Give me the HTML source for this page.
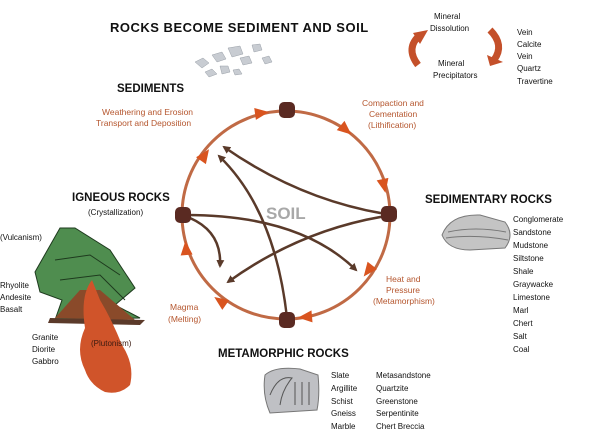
<!DOCTYPE html>
<html><head><meta charset="utf-8"><style>
body{margin:0;background:#fff}
svg{display:block}
text{font-family:"Liberation Sans",sans-serif}
.h{font-weight:bold;font-size:11.5px;fill:#111}
.s{font-size:8px;fill:#111}
.o{font-size:8.5px;fill:#b5562e}
</style></head><body>
<svg width="601" height="434" viewBox="0 0 601 434">
<defs>
<marker id="ab" markerWidth="8" markerHeight="8" refX="6" refY="4" orient="auto" markerUnits="userSpaceOnUse"><path d="M0,0 L8,4 L0,8 Z" fill="#5a3a2a"/></marker>
</defs>
<!-- title -->
<text x="110" y="32" class="h" style="font-size:13px;letter-spacing:0.5px">ROCKS BECOME SEDIMENT AND SOIL</text>
<!-- sediment pebbles -->
<g fill="#c8ccd2" stroke="#9aa0a8" stroke-width="0.5">
<path d="M195,62 l8,-4 l6,5 l-7,5z"/><path d="M212,55 l10,-3 l4,7 l-9,3z"/><path d="M228,48 l12,-2 l3,8 l-11,3z"/>
<path d="M240,58 l9,-2 l3,7 l-9,2z"/><path d="M205,72 l7,-3 l5,5 l-8,3z"/><path d="M220,66 l8,0 l2,6 l-8,2z"/>
<path d="M252,45 l8,-1 l2,6 l-8,2z"/><path d="M233,70 l6,-1 l3,5 l-7,1z"/><path d="M262,58 l7,-2 l3,6 l-7,2z"/>
</g>
<!-- mineral cycle -->
<text x="434" y="19" class="s">Mineral</text>
<text x="430" y="31" class="s">Dissolution</text>
<text x="438" y="66" class="s">Mineral</text>
<text x="433" y="78" class="s">Precipitators</text>
<path d="M418,65 Q405,48 420,35" stroke="#c4502a" stroke-width="7" fill="none"/>
<path d="M413,33 L428,30 L420,44 Z" fill="#c4502a"/>
<path d="M490,30 Q505,45 494,60" stroke="#c4502a" stroke-width="7" fill="none"/>
<path d="M487,55 L503,62 L490,66 Z" fill="#c4502a"/>
<g class="s"><text x="517" y="35">Vein</text><text x="517" y="47">Calcite</text><text x="517" y="59">Vein</text><text x="517" y="71">Quartz</text><text x="517" y="84">Travertine</text></g>
<!-- labels -->
<text x="117" y="92" class="h">SEDIMENTS</text>
<text x="102" y="115" class="o">Weathering and Erosion</text>
<text x="96" y="126" class="o">Transport and Deposition</text>
<text x="362" y="106" class="o">Compaction and</text>
<text x="369" y="117" class="o">Cementation</text>
<text x="368" y="128" class="o">(Lithification)</text>
<text x="72" y="201" class="h">IGNEOUS ROCKS</text>
<text x="88" y="215" class="s">(Crystallization)</text>
<text x="425" y="203" class="h">SEDIMENTARY ROCKS</text>
<text x="386" y="282" class="o">Heat and</text>
<text x="386" y="293" class="o">Pressure</text>
<text x="373" y="304" class="o">(Metamorphism)</text>
<text x="170" y="310" class="o">Magma</text>
<text x="168" y="322" class="o">(Melting)</text>
<text x="218" y="357" class="h">METAMORPHIC ROCKS</text>
<text x="266" y="219" style="font-weight:bold;font-size:17px;fill:#a8a8a8">SOIL</text>
<!-- circle -->
<circle cx="286" cy="215" r="104" fill="none" stroke="#c06a45" stroke-width="3"/>
<g fill="#d9541f">
<path d="M-7,-6 L7,0 L-7,6 Z" transform="translate(262,113) rotate(-8)"/>
<path d="M-7,-6 L7,0 L-7,6 Z" transform="translate(346,130) rotate(40)"/>
<path d="M-7,-6 L7,0 L-7,6 Z" transform="translate(384,186) rotate(78)"/>
<path d="M-7,-6 L7,0 L-7,6 Z" transform="translate(368,271) rotate(128)"/>
<path d="M-7,-6 L7,0 L-7,6 Z" transform="translate(305,317) rotate(175)"/>
<path d="M-7,-6 L7,0 L-7,6 Z" transform="translate(220,301) rotate(215)"/>
<path d="M-7,-6 L7,0 L-7,6 Z" transform="translate(186,248) rotate(265)"/>
<path d="M-7,-6 L7,0 L-7,6 Z" transform="translate(205,155) rotate(-55)"/>
</g>
<!-- inner arrows -->
<g stroke="#5a3a2a" stroke-width="2.5" fill="none" marker-end="url(#ab)">
<path d="M386,214 Q300,200 224,147"/>
<path d="M287,318 Q275,210 219,156"/>
<path d="M186,215 Q300,215 356,270"/>
<path d="M386,216 Q300,230 228,282"/>
<path d="M190,218 Q222,232 220,266"/>
</g>
<g fill="#5a2a22">
<rect x="279" y="102" width="16" height="16" rx="5"/>
<rect x="381" y="206" width="16" height="16" rx="5"/>
<rect x="279" y="312" width="16" height="16" rx="5"/>
<rect x="175" y="207" width="16" height="16" rx="5"/>
</g>
<!-- volcano -->
<text x="0" y="240" class="s">(Vulcanism)</text>
<path d="M35,272 L60,228 L75,228 L110,250 L135,288 L115,305 L140,318 L55,320 L62,300 L40,292 Z" fill="#4f8d4f" stroke="#1e3a1e" stroke-width="1"/>
<path d="M55,260 L90,255 L120,275 M60,280 L100,275 L125,300" stroke="#1e3a1e" fill="none"/>
<path d="M55,318 L80,290 L100,290 L135,320 Z" fill="#8a4a2a"/>
<path d="M50,318 L145,320 L140,325 L48,323 Z" fill="#5b3a2a"/>
<path d="M85,328 Q80,295 92,280 L100,300 Q112,320 122,345 Q135,365 130,385 Q120,395 105,392 Q90,385 85,370 Q75,350 85,328Z" fill="#d0542a"/>
<g class="s"><text x="0" y="288">Rhyolite</text><text x="0" y="300">Andesite</text><text x="0" y="312">Basalt</text>
<text x="32" y="340">Granite</text><text x="32" y="352">Diorite</text><text x="32" y="364">Gabbro</text></g>
<text x="91" y="346" style="font-size:8px;fill:#3a1a10">(Plutonism)</text>
<!-- sedimentary rock -->
<path d="M442,235 Q450,214 480,215 L505,222 Q515,235 505,248 L470,250 Q448,250 442,235Z" fill="#c4c4c4" stroke="#777"/>
<path d="M448,232 Q475,226 506,232 M446,238 Q475,234 508,240" stroke="#777" fill="none"/>
<g class="s"><text x="513" y="222">Conglomerate</text><text x="513" y="235">Sandstone</text><text x="513" y="248">Mudstone</text><text x="513" y="261">Siltstone</text><text x="513" y="274">Shale</text><text x="513" y="287">Graywacke</text><text x="513" y="300">Limestone</text><text x="513" y="313">Marl</text><text x="513" y="326">Chert</text><text x="513" y="339">Salt</text><text x="513" y="352">Coal</text></g>
<!-- metamorphic rock -->
<path d="M265,375 Q275,366 300,369 L318,375 Q320,395 317,410 L270,413 Q262,395 265,375Z" fill="#bfc0c4" stroke="#777"/>
<path d="M270,395 Q278,375 292,378 Q282,390 280,405 M295,382 L295,405 M302,382 L302,405 M309,382 L309,405" stroke="#555" fill="none"/>
<g class="s"><text x="331" y="378">Slate</text><text x="331" y="391">Argillite</text><text x="331" y="404">Schist</text><text x="331" y="416">Gneiss</text><text x="331" y="429">Marble</text>
<text x="376" y="378">Metasandstone</text><text x="376" y="391">Quartzite</text><text x="376" y="404">Greenstone</text><text x="376" y="416">Serpentinite</text><text x="376" y="429">Chert Breccia</text></g>
</svg>
</body></html>
